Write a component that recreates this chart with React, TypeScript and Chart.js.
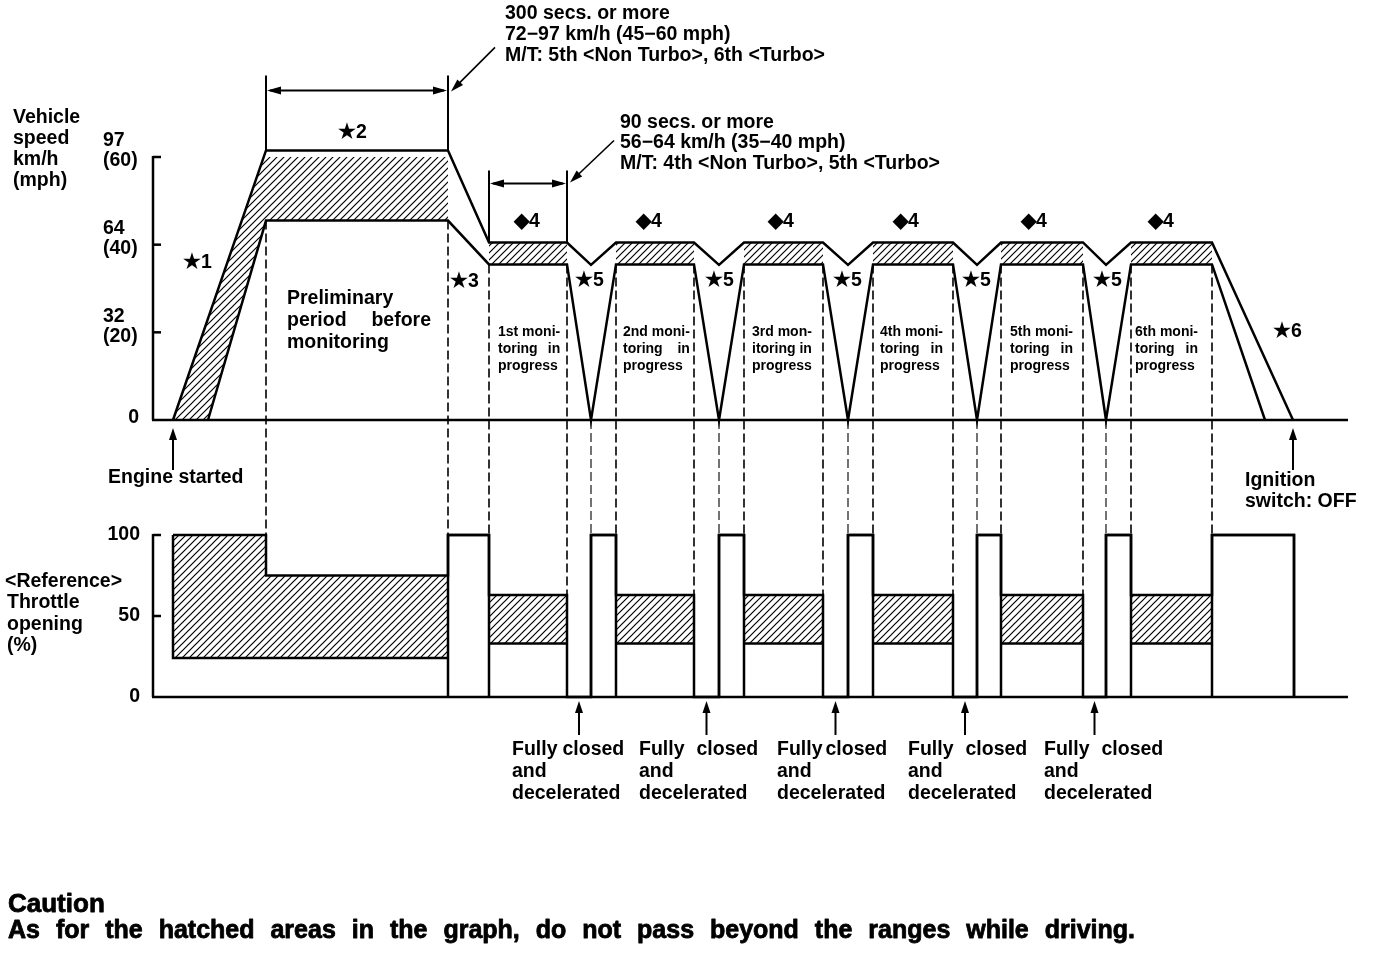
import React, { useEffect, useRef } from 'react';
import { Chart, registerables } from 'chart.js';

Chart.register(...registerables);

const FONT = '"Liberation Sans", Arial, Helvetica, sans-serif';

// ---------------- data ----------------
// x = elapsed time along the drive pattern (arbitrary units), speed in mph, throttle in %

// vehicle speed: upper / lower limit traces
const speedUpperT = [20, 113, 295, 336, 414, 438, 463, 541, 566, 591, 670, 695, 720, 800, 824, 848, 930, 953, 978, 1059, 1140];
const speedUpperV = [0, 61.5, 61.5, 40.5, 40.5, 35.4, 40.5, 40.5, 35.4, 40.5, 40.5, 35.4, 40.5, 40.5, 35.4, 40.5, 40.5, 35.4, 40.5, 40.5, 0];
const speedLowerT = [55, 113, 295, 336, 414, 438, 463, 541, 566, 591, 670, 695, 720, 800, 824, 848, 930, 953, 978, 1059, 1112];
const speedLowerV = [0, 45.5, 45.5, 35.5, 35.5, 0, 35.5, 35.5, 0, 35.5, 35.5, 0, 35.5, 35.5, 0, 35.5, 35.5, 0, 35.5, 35.5, 0];

// hatched (permitted) speed range during acceleration + preliminary period
const speedPrelimHatchT = [20, 113, 295, 295, 113, 55];
const speedPrelimHatchV = [0, 61.5, 61.5, 45.5, 45.5, 0];

// monitoring periods
const bandStartT = [336, 463, 591, 720, 848, 978];
const bandEndT = [414, 541, 670, 800, 930, 1059];
const speedBand = [35.5, 40.5];
const throttleBand = [33, 63];

// throttle: maximum (upper) trace
const throttleMaxT = [20, 113, 113, 295, 295, 336, 336, 414, 414, 438, 438, 463, 463, 541, 541, 566, 566, 591, 591, 670, 670, 695, 695, 720, 720, 800, 800, 824, 824, 848, 848, 930, 930, 953, 953, 978, 978, 1059, 1059, 1141, 1141];
const throttleMaxV = [100, 100, 75, 75, 100, 100, 63, 63, 0, 0, 100, 100, 63, 63, 0, 0, 100, 100, 63, 63, 0, 0, 100, 100, 63, 63, 0, 0, 100, 100, 63, 63, 0, 0, 100, 100, 63, 63, 100, 100, 0];
// throttle: preliminary period hatched area
const throttlePrelimT = [20, 113, 113, 295, 295, 20];
const throttlePrelimV = [100, 100, 75, 75, 24, 24];
// full-throttle spells (100 %)
const fullStartT = [295, 438, 566, 695, 824, 953, 1059];
const fullEndT = [336, 463, 591, 720, 848, 978, 1141];

// dashed guide lines from the speed graph down to the throttle graph
const guideT = [113, 295, 336, 414, 438, 463, 541, 566, 591, 670, 695, 720, 800, 824, 848, 930, 953, 978, 1059];
const guideFromSpeed = [45.5, 45.5, 35.5, 35.5, 0, 35.5, 35.5, 0, 35.5, 35.5, 0, 35.5, 35.5, 0, 35.5, 35.5, 0, 35.5, 35.5];
const guideToThrottle = [100, 100, 100, 63, 100, 100, 63, 100, 100, 63, 100, 100, 63, 100, 100, 63, 100, 100, 100];

// axis ticks
const speedTicks = [0, 20, 40, 60];
const speedTickKmh = ['0', '32', '64', '97'];
const speedTickMph = ['', '(20)', '(40)', '(60)'];
const throttleTicks = [0, 50, 100];

const engineStartT = 20;
const ignitionOffT = 1140;

// ---------------- layout ----------------
const W = 1376, H = 954;
const AREA = { left: 153, right: 1348, top: 157, bottom: 697 };
const SPEED_ZERO_PX = 420;
const THR_FULL_PX = 535;
const X_MAX = AREA.right - AREA.left;
const SPEED_MAX = 60;
const SPEED_MIN = -SPEED_MAX * (AREA.bottom - SPEED_ZERO_PX) / (SPEED_ZERO_PX - AREA.top);
const THR_MAX = 100 * (AREA.bottom - AREA.top) / (AREA.bottom - THR_FULL_PX);

type Pt = { x: number; y: number | null };
const pts = (t: number[], v: number[]): Pt[] => t.map((x, i) => ({ x, y: v[i] }));
const joinGaps = (parts: Pt[][]): Pt[] => {
  const out: Pt[] = [];
  parts.forEach((p, i) => {
    if (i) out.push({ x: p[0].x, y: null });
    out.push(...p);
  });
  return out;
};
const rect = (a: number, b: number, lo: number, hi: number): Pt[] => [
  { x: a, y: hi }, { x: b, y: hi }, { x: b, y: lo }, { x: a, y: lo },
];

function makeHatch(ctx: CanvasRenderingContext2D): CanvasPattern {
  const s = 7;
  const c = document.createElement('canvas');
  c.width = s; c.height = s;
  const g = c.getContext('2d')!;
  g.strokeStyle = '#000';
  g.lineWidth = 1.2;
  g.beginPath();
  g.moveTo(-1, s + 1); g.lineTo(s + 1, -1);
  g.moveTo(-1, 1); g.lineTo(1, -1);
  g.moveTo(s - 1, s + 1); g.lineTo(s + 1, s - 1);
  g.stroke();
  return ctx.createPattern(c, 'repeat')!;
}

function arrowHead(ctx: CanvasRenderingContext2D, tx: number, ty: number, ang: number, len = 12, half = 4) {
  ctx.beginPath();
  ctx.moveTo(tx, ty);
  ctx.lineTo(tx - len * Math.cos(ang) + half * Math.sin(ang), ty - len * Math.sin(ang) - half * Math.cos(ang));
  ctx.lineTo(tx - len * Math.cos(ang) - half * Math.sin(ang), ty - len * Math.sin(ang) + half * Math.cos(ang));
  ctx.closePath();
  ctx.fill();
}

function justify(ctx: CanvasRenderingContext2D, text: string, x: number, y: number, width: number, stroke = false) {
  const words = text.split(/\s+/);
  const ws = words.map((w) => ctx.measureText(w).width);
  const gap = words.length < 2 ? 0 : (width - ws.reduce((a, b) => a + b, 0)) / (words.length - 1);
  let cx = x;
  words.forEach((w, i) => {
    if (stroke) ctx.strokeText(w, cx, y);
    ctx.fillText(w, cx, y);
    cx += ws[i] + gap;
  });
}

const diagramPlugin = {
  id: 'diagram',
  beforeDatasetsDraw(chart: any) {
    const ctx: CanvasRenderingContext2D = chart.ctx;
    const X = (t: number) => chart.scales.x.getPixelForValue(t);
    const S = (v: number) => chart.scales.ySpeed.getPixelForValue(v);
    const P = (v: number) => chart.scales.yThr.getPixelForValue(v);
    ctx.save();
    ctx.strokeStyle = '#000';
    ctx.setLineDash([9, 4]);
    guideT.forEach((t, i) => {
      ctx.lineWidth = guideFromSpeed[i] === 0 ? 1.1 : 1.6;
      ctx.beginPath();
      ctx.moveTo(X(t), S(guideFromSpeed[i]));
      ctx.lineTo(X(t), P(guideToThrottle[i]));
      ctx.stroke();
    });
    ctx.restore();
  },
  afterDatasetsDraw(chart: any) {
    const ctx: CanvasRenderingContext2D = chart.ctx;
    const X = (t: number) => chart.scales.x.getPixelForValue(t);
    const S = (v: number) => chart.scales.ySpeed.getPixelForValue(v);
    const P = (v: number) => chart.scales.yThr.getPixelForValue(v);
    const x0 = X(0), xEnd = X(X_MAX);
    ctx.save();
    ctx.strokeStyle = '#000';
    ctx.fillStyle = '#000';
    ctx.lineWidth = 2.5;
    ctx.lineCap = 'butt';

    // axes & baselines
    const line = (ax: number, ay: number, bx: number, by: number) => {
      ctx.beginPath(); ctx.moveTo(ax, ay); ctx.lineTo(bx, by); ctx.stroke();
    };
    line(x0, S(SPEED_MAX) - 1, x0, S(0));
    line(x0 - 1, S(0), xEnd, S(0));
    speedTicks.forEach((v) => { if (v) line(x0, S(v), x0 + 8, S(v)); });
    line(x0, P(100) - 1, x0, P(0));
    line(x0 - 1, P(0), xEnd, P(0));
    throttleTicks.forEach((v) => { if (v) line(x0, P(v), x0 + 8, P(v)); });

    const F = (size: number, bold = true) => `${bold ? 'bold ' : ''}${size}px ${FONT}`;
    const MAIN = F(19.5);
    ctx.textBaseline = 'middle';
    const T = (s: string, x: number, y: number, align: CanvasTextAlign = 'left', font = MAIN) => {
      ctx.font = font; ctx.textAlign = align; ctx.fillText(s, x, y);
    };

    // tick labels
    speedTicks.forEach((v, i) => {
      if (v === 0) { T(speedTickKmh[i], x0 - 14, S(0) - 2, 'right'); return; }
      T(speedTickKmh[i], x0 - 50, S(v) - 16);
      T(speedTickMph[i], x0 - 50, S(v) + 4);
    });
    throttleTicks.forEach((v) => T(String(v), x0 - 13, P(v), 'right'));

    // axis titles
    ['Vehicle', 'speed', 'km/h', '(mph)'].forEach((s, i) => T(s, 13, 118 + i * 21));
    T('<Reference>', 5, 582);
    ['Throttle', 'opening', '(%)'].forEach((s, i) => T(s, 7, 603 + i * 21.5));

    // dimension arrows at the top
    const dim = (ta: number, tb: number, topV: number, lineUp: number, extUp: number) => {
      const yb = S(topV);
      const y = yb - lineUp;
      ctx.lineWidth = 2;
      line(X(ta), yb, X(ta), yb - extUp);
      line(X(tb), yb, X(tb), yb - extUp);
      line(X(ta) + 4, y, X(tb) - 4, y);
      arrowHead(ctx, X(ta) + 1, y, Math.PI, 14, 4);
      arrowHead(ctx, X(tb) - 1, y, 0, 14, 4);
      return y;
    };
    const y1 = dim(113, 295, 61.5, 60, 75);
    const y2 = dim(336, 414, 40.5, 59, 72);
    // leader lines
    const leader = (tx: number, ty: number, dx: number, dy: number) => {
      ctx.lineWidth = 1.6;
      line(tx + dx, ty + dy, tx + 4, ty - 4);
      arrowHead(ctx, tx, ty, Math.atan2(-dy, -dx), 13, 4);
    };
    leader(X(295) + 3, y1 + 1, 44, -44);
    leader(X(414) + 3, y2 - 1, 44, -42);

    T('300 secs. or more', 505, 14);
    T('72\u221297 km/h (45\u221260 mph)', 505, 35);
    T('M/T: 5th <Non Turbo>, 6th <Turbo>', 505, 56);
    T('90 secs. or more', 620, 123);
    T('56\u221264 km/h (35\u221240 mph)', 620, 143);
    T('M/T: 4th <Non Turbo>, 5th <Turbo>', 620, 164);

    // star / diamond markers
    T('\u26051', 183, 263);
    T('\u26052', 338, 133);
    T('\u26053', 450, 282);
    T('\u26056', 1273, 332);
    [527, 649, 781, 906, 1034, 1161].forEach((x) => T('\u25C64', x, 222, 'center'));
    [575, 705, 833, 962, 1093].forEach((x) => T('\u26055', x, 281));

    // preliminary period
    ctx.font = MAIN;
    ctx.textAlign = 'left';
    ctx.fillText('Preliminary', 287, 299);
    justify(ctx, 'period before', 287, 321, 144);
    ctx.fillText('monitoring', 287, 343);

    // monitoring labels
    const ords = ['1st moni-', '2nd moni-', '3rd mon-', '4th moni-', '5th moni-', '6th moni-'];
    const second = ['toring in', 'toring in', 'itoring in', 'toring in', 'toring in', 'toring in'];
    [498, 623, 752, 880, 1010, 1135].forEach((x, i) => {
      ctx.font = F(14);
      ctx.textAlign = 'left';
      const w = ctx.measureText(ords[i]).width;
      ctx.fillText(ords[i], x, 332);
      justify(ctx, second[i], x, 349, w);
      ctx.fillText('progress', x, 366);
    });

    // engine start / ignition off arrows
    ctx.lineWidth = 2;
    [engineStartT, ignitionOffT].forEach((t) => {
      line(X(t), S(0) + 50, X(t), S(0) + 18);
      arrowHead(ctx, X(t), S(0) + 8, -Math.PI / 2, 12, 4);
    });
    T('Engine started', 108, 478);
    T('Ignition', 1245, 481);
    T('switch: OFF', 1245, 502);

    // fully closed arrows
    const closedLabelX = [512, 639, 777, 908, 1044];
    const closedGap = [5, 12, 3, 12, 12];
    bandEndT.slice(0, 5).forEach((t, i) => {
      const xm = X((t + fullStartT[i + 1]) / 2);
      ctx.lineWidth = 2;
      line(xm, P(0) + 38, xm, P(0) + 14);
      arrowHead(ctx, xm, P(0) + 4, -Math.PI / 2, 12, 4);
      ctx.font = MAIN;
      ctx.textAlign = 'left';
      const w = ctx.measureText('Fully').width + ctx.measureText('closed').width + closedGap[i];
      justify(ctx, 'Fully closed', closedLabelX[i], 750, w);
      ctx.fillText('and', closedLabelX[i], 772);
      ctx.fillText('decelerated', closedLabelX[i], 794);
    });

    // caution
    ctx.textAlign = 'left';
    ctx.lineWidth = 0.8;
    ctx.lineJoin = 'round';
    ctx.font = F(26);
    justify(ctx, 'Caution', 8, 905, 0, true);
    ctx.font = F(25);
    justify(ctx, 'As for the hatched areas in the graph, do not pass beyond the ranges while driving.', 8, 931, 1127, true);
    ctx.restore();
  },
};

export default function App() {
  const ref = useRef<HTMLCanvasElement>(null);
  useEffect(() => {
    document.body.style.margin = '0';
    document.body.style.overflow = 'hidden';
    const canvas = ref.current!;
    const ctx = canvas.getContext('2d')!;
    const hatch = makeHatch(ctx);

    const speedHatch = joinGaps([
      pts(speedPrelimHatchT, speedPrelimHatchV),
      ...bandStartT.map((a, i) => rect(a, bandEndT[i], speedBand[0], speedBand[1])),
    ]);
    const throttleHatch = joinGaps([
      pts(throttlePrelimT, throttlePrelimV),
      ...bandStartT.map((a, i) => rect(a, bandEndT[i], throttleBand[0], throttleBand[1])),
    ]);
    const throttleLow = joinGaps([
      [{ x: 20, y: 100 }, { x: 20, y: throttlePrelimV[4] }, { x: 295, y: throttlePrelimV[4] }],
      ...bandStartT.map((a, i) => [{ x: a, y: throttleBand[0] }, { x: bandEndT[i], y: throttleBand[0] }]),
    ]);
    const fullBoxes = joinGaps(fullStartT.map((a, i) => [
      { x: a, y: 0 }, { x: a, y: 100 }, { x: fullEndT[i], y: 100 }, { x: fullEndT[i], y: 0 },
    ]));

    const outline = (data: Pt[], yAxisID: string) => ({
      data, yAxisID, borderColor: '#000', borderWidth: 2.5, pointRadius: 0,
      fill: false, clip: false, spanGaps: false, borderJoinStyle: 'miter' as const,
    });
    const hatchDs = (data: Pt[], yAxisID: string) => ({
      data, yAxisID, borderColor: 'rgba(0,0,0,0)', borderWidth: 0, pointRadius: 0,
      backgroundColor: hatch, fill: 'shape', clip: false, spanGaps: false, order: 5,
    });

    const chart = new Chart(ctx, {
      type: 'line',
      data: {
        datasets: [
          outline(pts(speedUpperT, speedUpperV), 'ySpeed'),
          outline(pts(speedLowerT, speedLowerV), 'ySpeed'),
          outline(pts(throttleMaxT, throttleMaxV), 'yThr'),
          outline(throttleLow, 'yThr'),
          outline(fullBoxes, 'yThr'),
          hatchDs(speedHatch, 'ySpeed'),
          hatchDs(throttleHatch, 'yThr'),
        ] as any,
      },
      options: {
        responsive: false,
        animation: false,
        devicePixelRatio: 1,
        events: [],
        layout: {
          padding: { left: AREA.left, right: W - AREA.right, top: AREA.top, bottom: H - AREA.bottom },
        },
        plugins: { legend: { display: false }, tooltip: { enabled: false } },
        scales: {
          x: { type: 'linear', min: 0, max: X_MAX, display: false },
          ySpeed: { type: 'linear', min: SPEED_MIN, max: SPEED_MAX, display: false },
          yThr: { type: 'linear', min: 0, max: THR_MAX, display: false },
        },
      },
      plugins: [diagramPlugin],
    });
    return () => chart.destroy();
  }, []);
  return <canvas ref={ref} width={W} height={H} style={{ display: 'block', width: W, height: H }} />;
}
